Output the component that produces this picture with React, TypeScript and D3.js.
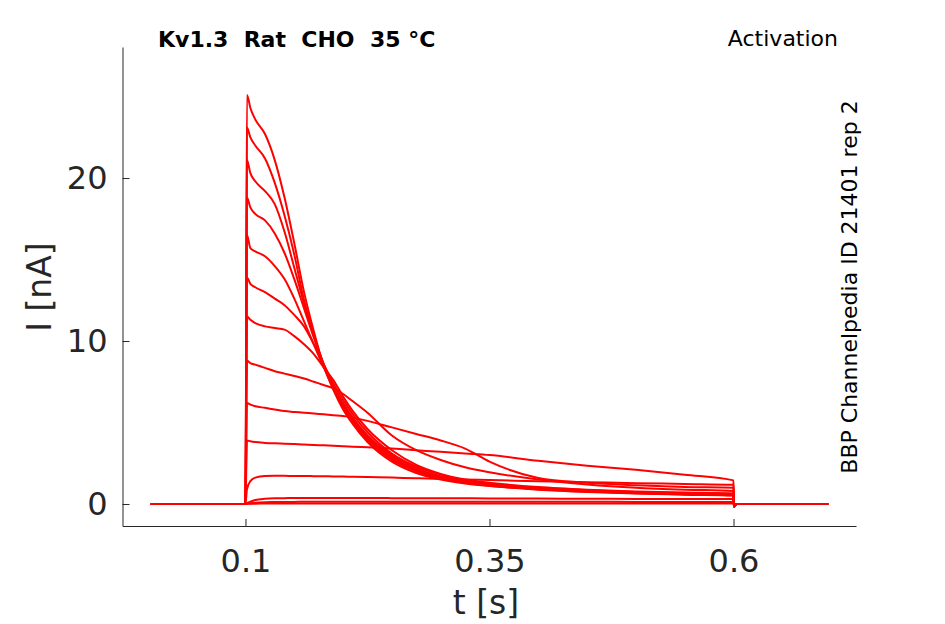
import { useEffect, useRef } from 'react'
import * as d3 from 'd3'

// sample times during the voltage step (s)
const stepTimes = [
  0.1015, 0.105, 0.11, 0.12, 0.13, 0.14, 0.15, 0.16, 0.17, 0.18, 0.19, 0.2,
  0.21, 0.225, 0.25, 0.275, 0.3, 0.325, 0.35, 0.4, 0.45, 0.5, 0.55, 0.6,
]
const traceStart = 0.003
const stepOn = 0.1
const traceEnd = 0.697
const tailTimes = [0.6005, 0.603]
const tailValues = [-0.15, 0]

// current traces (nA), one per voltage step
const i25 = [25.1, 24.3, 23.6, 22.7, 21.1, 18.8, 16.0, 13.0, 10.6, 8.5, 7.0, 5.8, 4.9, 3.8, 2.6, 1.9, 1.5, 1.25, 1.1, 0.88, 0.74, 0.64, 0.57, 0.52]
const i23 = [23.1, 22.5, 22.0, 21.2, 19.7, 17.7, 15.3, 12.5, 10.4, 8.5, 7.1, 5.9, 5.0, 3.9, 2.7, 2.0, 1.55, 1.3, 1.12, 0.9, 0.76, 0.66, 0.59, 0.54]
const i21 = [21.1, 20.3, 19.8, 19.2, 18.4, 16.7, 14.5, 12.3, 10.3, 8.6, 7.2, 6.0, 5.1, 4.0, 2.8, 2.05, 1.6, 1.32, 1.14, 0.92, 0.78, 0.68, 0.61, 0.55]
const i19 = [18.8, 18.2, 17.8, 17.4, 16.6, 15.4, 13.8, 12.0, 10.2, 8.6, 7.2, 6.1, 5.2, 4.1, 2.9, 2.1, 1.65, 1.35, 1.17, 0.94, 0.8, 0.7, 0.63, 0.57]
const i17 = [16.5, 15.7, 15.5, 15.2, 14.6, 13.8, 12.6, 11.2, 9.8, 8.4, 7.2, 6.2, 5.3, 4.2, 3.0, 2.2, 1.7, 1.4, 1.2, 0.96, 0.82, 0.72, 0.65, 0.59]
const i14 = [13.9, 13.5, 13.3, 13.0, 12.6, 12.2, 11.6, 10.9, 9.8, 8.6, 7.4, 6.4, 5.5, 4.4, 3.1, 2.3, 1.8, 1.45, 1.25, 1.0, 0.85, 0.74, 0.67, 0.61]
const i11 = [11.5, 11.3, 11.1, 10.9, 10.8, 10.7, 10.3, 9.8, 9.2, 8.4, 7.6, 6.6, 5.7, 4.6, 3.3, 2.4, 1.85, 1.5, 1.3, 1.04, 0.88, 0.77, 0.7, 0.64]
const i9 = [8.8, 8.65, 8.55, 8.35, 8.15, 8.0, 7.85, 7.7, 7.5, 7.3, 7.1, 6.75, 6.3, 5.6, 4.2, 3.3, 2.7, 2.25, 1.95, 1.5, 1.2, 1.0, 0.88, 0.8]
const i6 = [6.2, 6.1, 6.0, 5.9, 5.8, 5.7, 5.65, 5.6, 5.55, 5.5, 5.45, 5.4, 5.3, 5.1, 4.7, 4.3, 3.9, 3.4, 2.6, 1.6, 1.3, 1.15, 1.05, 1.0]
const i4 = [3.9, 3.85, 3.8, 3.75, 3.72, 3.7, 3.68, 3.65, 3.62, 3.6, 3.57, 3.55, 3.52, 3.48, 3.4, 3.3, 3.2, 3.1, 3.0, 2.65, 2.35, 2.1, 1.8, 1.45]
const i2 = [0.9, 1.4, 1.62, 1.72, 1.73, 1.73, 1.72, 1.72, 1.71, 1.7, 1.69, 1.68, 1.67, 1.65, 1.62, 1.58, 1.54, 1.5, 1.47, 1.4, 1.34, 1.28, 1.23, 1.18]
const i04 = [0.05, 0.15, 0.25, 0.32, 0.35, 0.36, 0.37, 0.37, 0.37, 0.37, 0.37, 0.37, 0.37, 0.37, 0.36, 0.36, 0.35, 0.35, 0.34, 0.33, 0.32, 0.31, 0.3, 0.3]
const i01 = [0.02, 0.05, 0.08, 0.11, 0.12, 0.13, 0.13, 0.14, 0.14, 0.14, 0.14, 0.14, 0.14, 0.14, 0.14, 0.14, 0.14, 0.14, 0.14, 0.14, 0.14, 0.13, 0.13, 0.13]
const i00 = [0.01, 0.02, 0.02, 0.03, 0.03, 0.03, 0.03, 0.03, 0.03, 0.03, 0.03, 0.03, 0.03, 0.03, 0.03, 0.03, 0.03, 0.03, 0.03, 0.03, 0.03, 0.03, 0.03, 0.03]

const traces = [i00, i01, i04, i2, i4, i6, i9, i11, i14, i17, i19, i21, i23, i25]

const xTicks = [0.1, 0.35, 0.6]
const xTickLabels = ['0.1', '0.35', '0.6']
const yTicks = [0, 10, 20]

const title = 'Kv1.3  Rat  CHO  35 °C'
const protocol = 'Activation'
const source = 'BBP Channelpedia ID 21401 rep 2'

const font = '"DejaVu Sans", sans-serif'
const axisColor = '#262626'

export default function App() {
  const ref = useRef<SVGSVGElement | null>(null)

  useEffect(() => {
    if (!ref.current) return
    const svg = d3.select(ref.current)
    svg.selectAll('*').remove()

    const x = d3.scaleLinear().domain([-0.026, 0.7255]).range([122.5, 856])
    const y = d3.scaleLinear().domain([-1.35, 28.04]).range([526, 47])

    const line = d3
      .line<[number, number]>()
      .x((d) => x(d[0]))
      .y((d) => y(d[1]))
      .curve(d3.curveMonotoneX)

    const toPoints = (vals: number[]): [number, number][] => [
      [traceStart, 0],
      [stepOn, 0],
      ...vals.map((v, i) => [stepTimes[i], v] as [number, number]),
      ...tailTimes.map((t, i) => [t, tailValues[i]] as [number, number]),
      [traceEnd, 0],
    ]

    svg
      .append('g')
      .selectAll('path')
      .data(traces)
      .enter()
      .append('path')
      .attr('d', (d) => line(toPoints(d)))
      .attr('fill', 'none')
      .attr('stroke', '#ff0000')
      .attr('stroke-width', 2)
      .attr('stroke-linejoin', 'round')

    const gy = svg
      .append('g')
      .attr('transform', `translate(${x.range()[0]},0)`)
      .call(
        d3
          .axisLeft(y)
          .tickValues(yTicks)
          .tickSizeInner(-7)
          .tickSizeOuter(0)
          .tickPadding(15)
          .tickFormat((d) => `${d as number}`),
      )
    gy.selectAll('text')
      .attr('fill', axisColor)
      .attr('font-size', 32)
      .attr('font-family', font)

    const gx = svg
      .append('g')
      .attr('transform', `translate(0,${y.range()[0]})`)
      .call(
        d3
          .axisBottom(x)
          .tickValues(xTicks)
          .tickSizeInner(-7)
          .tickSizeOuter(0)
          .tickPadding(23)
          .tickFormat((_, i) => xTickLabels[i]),
      )
    gx.selectAll('text')
      .attr('fill', axisColor)
      .attr('font-size', 32)
      .attr('font-family', font)

    svg.selectAll('.domain, .tick line').attr('stroke', axisColor).attr('stroke-width', 1)

    svg
      .append('text')
      .attr('x', 486)
      .attr('y', 614)
      .attr('text-anchor', 'middle')
      .attr('font-size', 33)
      .attr('font-family', font)
      .attr('fill', axisColor)
      .text('t [s]')

    svg
      .append('text')
      .attr('transform', 'translate(51,287) rotate(-90)')
      .attr('text-anchor', 'middle')
      .attr('font-size', 33)
      .attr('font-family', font)
      .attr('fill', axisColor)
      .text('I [nA]')

    svg
      .append('text')
      .attr('x', 158)
      .attr('y', 47)
      .attr('font-size', 22)
      .attr('font-weight', 'bold')
      .attr('font-family', font)
      .attr('fill', '#000')
      .style('white-space', 'pre')
      .text(title)

    svg
      .append('text')
      .attr('x', 838)
      .attr('y', 46)
      .attr('text-anchor', 'end')
      .attr('font-size', 22)
      .attr('font-family', font)
      .attr('fill', '#000')
      .text(protocol)

    svg
      .append('text')
      .attr('transform', 'translate(857,287) rotate(-90)')
      .attr('text-anchor', 'middle')
      .attr('font-size', 22)
      .attr('font-family', font)
      .attr('fill', '#000')
      .text(source)
  }, [])

  return (
    <svg
      ref={ref}
      width={945}
      height={624}
      viewBox="0 0 945 624"
      style={{ position: 'absolute', left: 0, top: 0, background: '#fff' }}
    />
  )
}
